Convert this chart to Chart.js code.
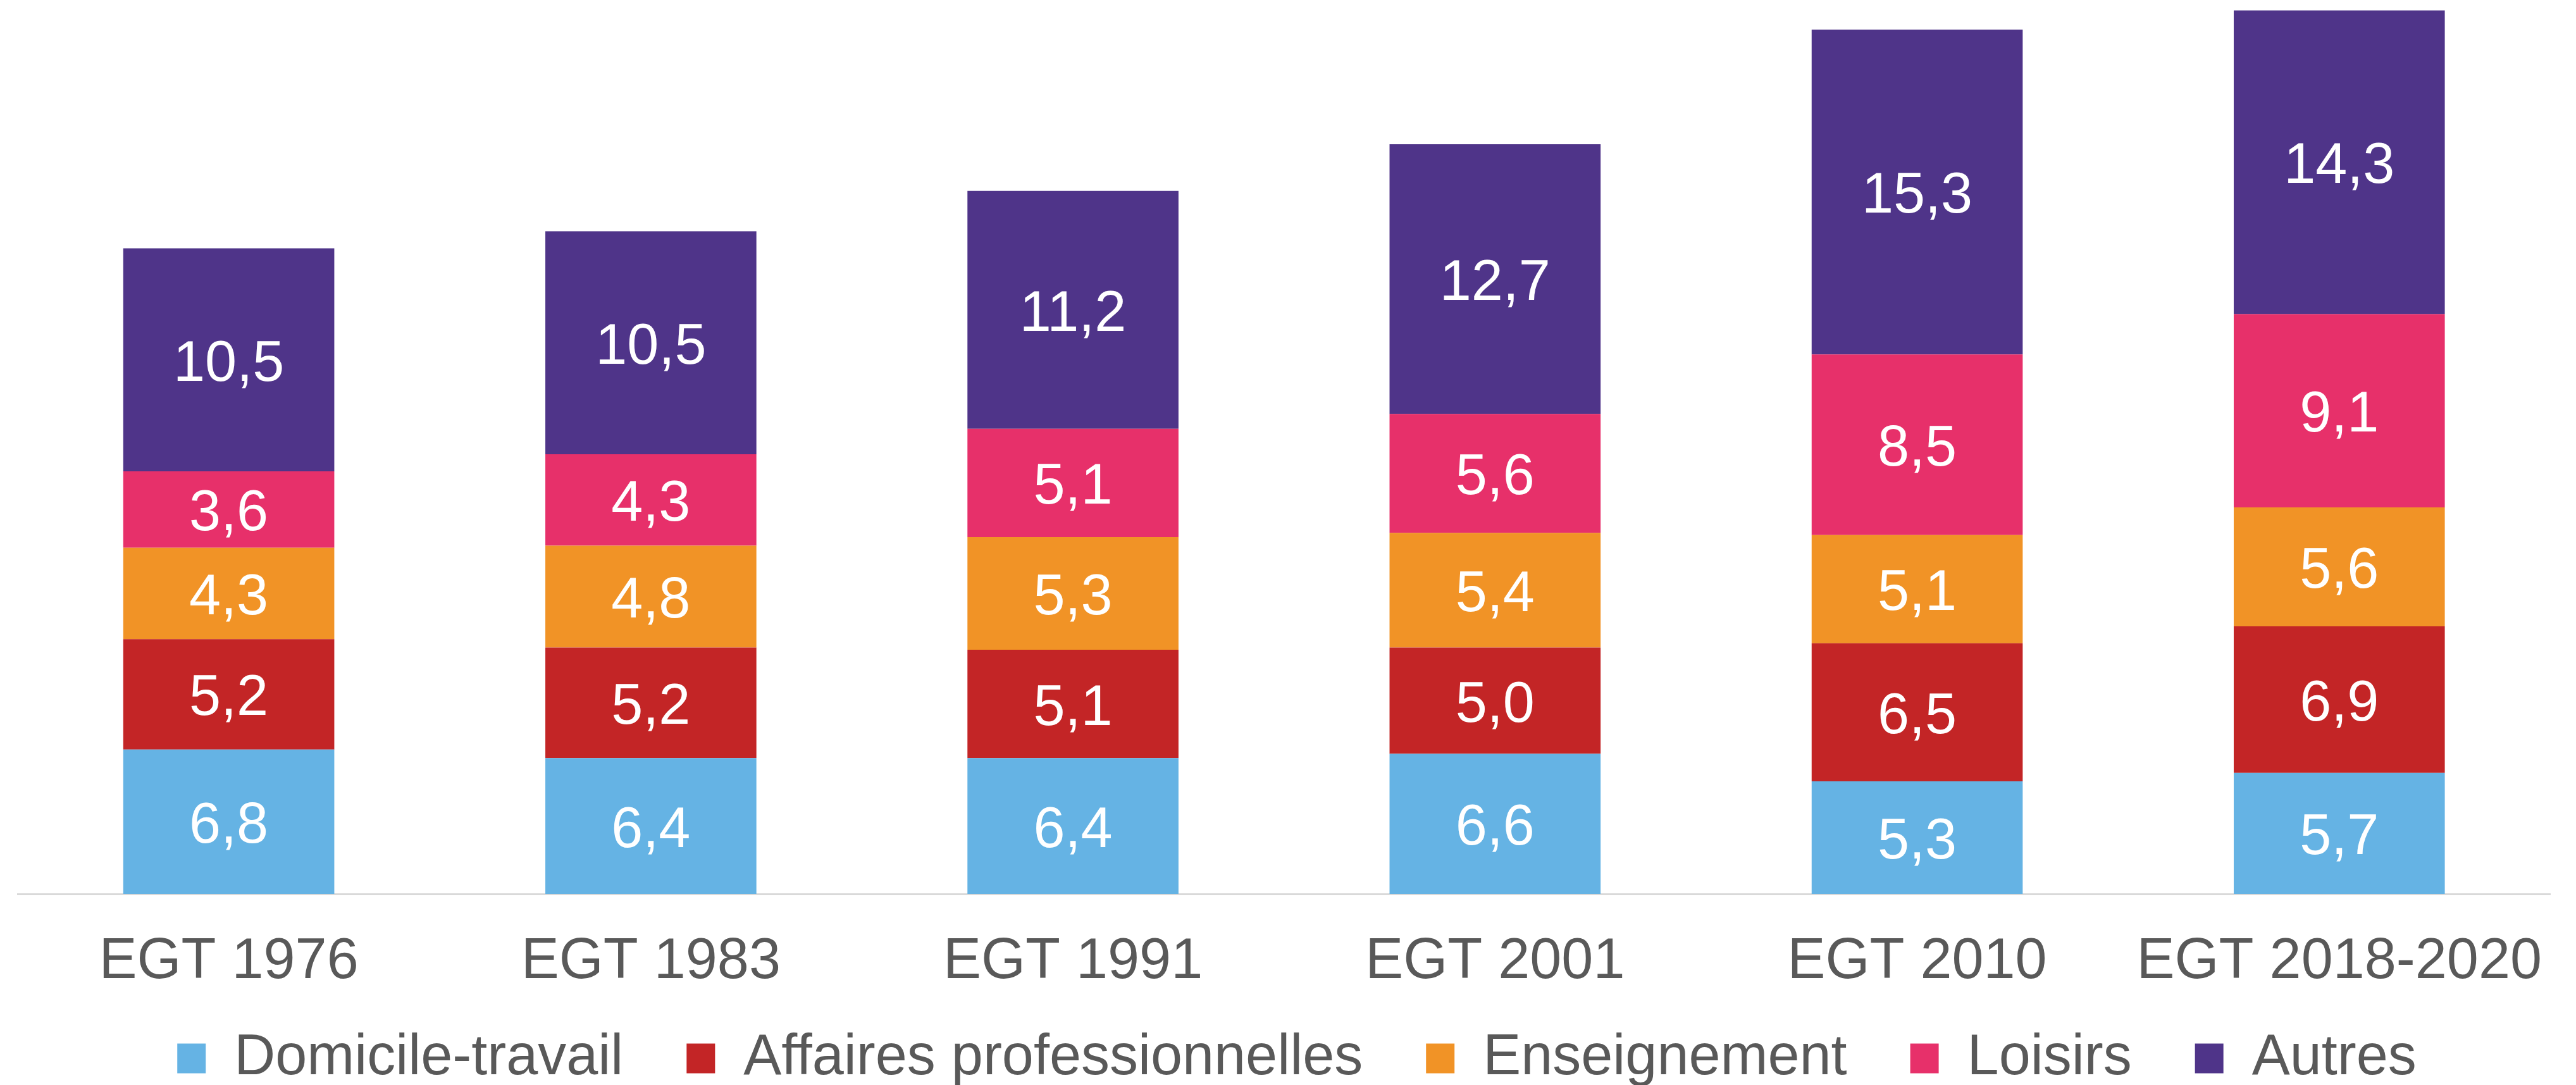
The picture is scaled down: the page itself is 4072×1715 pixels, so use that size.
<!DOCTYPE html>
<html lang="fr">
<head>
<meta charset="utf-8">
<title>EGT - déplacements par motif</title>
<script src="https://cdn.jsdelivr.net/npm/chart.js@4.4.1/dist/chart.umd.min.js"></script>
<style>
  html, body { margin: 0; padding: 0; background: #ffffff; }
  #wrap { width: 4072px; height: 1715px; position: relative; }
</style>
</head>
<body>
<div id="wrap"><canvas id="chart"></canvas></div>
<script>
// Données (millions de déplacements par motif)
const categories = ['EGT 1976', 'EGT 1983', 'EGT 1991', 'EGT 2001', 'EGT 2010', 'EGT 2018-2020'];
const domicileTravail = [6.8, 6.4, 6.4, 6.6, 5.3, 5.7];
const affairesPro = [5.2, 5.2, 5.1, 5.0, 6.5, 6.9];
const enseignement = [4.3, 4.8, 5.3, 5.4, 5.1, 5.6];
const loisirs = [3.6, 4.3, 5.1, 5.6, 8.5, 9.1];
const autres = [10.5, 10.5, 11.2, 12.7, 15.3, 14.3];

const FONT = '"Liberation Sans", Arial, Helvetica, sans-serif';
const GREY = '#595959';

Chart.defaults.font.family = FONT;

// Étiquettes blanches au centre de chaque segment
const segmentLabels = {
  id: 'segmentLabels',
  afterDatasetsDraw(chart) {
    const ctx = chart.ctx;
    ctx.save();
    ctx.fillStyle = '#ffffff';
    ctx.font = '90px ' + FONT;
    ctx.textAlign = 'center';
    ctx.textBaseline = 'alphabetic';
    chart.data.datasets.forEach((ds, i) => {
      chart.getDatasetMeta(i).data.forEach((bar, j) => {
        const mid = (bar.y + bar.base) / 2;
        ctx.fillText(ds.data[j].toFixed(1).replace('.', ','), bar.x, mid + 33);
      });
    });
    ctx.restore();
  }
};

// La légende garde un grand espacement horizontal sans trop de hauteur,
// et les libellés de l'axe x ne sont pas coupés par la zone de l'axe
const bottomLayout = {
  id: 'bottomLayout',
  beforeInit(chart) {
    const fit = chart.legend.fit;
    chart.legend.fit = function () {
      fit.call(this);
      this.height = 187;
    };
  },
  afterLayout(chart) {
    chart.scales.x.bottom += 70;
  }
};

const ctx = document.getElementById('chart').getContext('2d');
const chart = new Chart(ctx, {
  type: 'bar',
  data: {
    labels: categories,
    datasets: [
      { label: 'Domicile-travail', data: domicileTravail, backgroundColor: '#65B3E4' },
      { label: 'Affaires professionnelles', data: affairesPro, backgroundColor: '#C32526' },
      { label: 'Enseignement', data: enseignement, backgroundColor: '#F19326' },
      { label: 'Loisirs', data: loisirs, backgroundColor: '#E7306A' },
      { label: 'Autres', data: autres, backgroundColor: '#4F3489' }
    ]
  },
  options: {
    responsive: true,
    maintainAspectRatio: false,
    animation: false,
    layout: {
      padding: { top: 3, left: 28, right: 0, bottom: 0 }
    },
    datasets: {
      bar: {
        barPercentage: 0.5,
        categoryPercentage: 1.0,
        borderWidth: 0
      }
    },
    scales: {
      x: {
        stacked: true,
        grid: { display: false, drawTicks: false },
        border: { display: true, color: '#d9d9d9', width: 3 },
        ticks: {
          color: GREY,
          font: { size: 90 },
          padding: 54,
          maxRotation: 0,
          autoSkip: false
        },
        afterFit: (scale) => { scale.height = 115; }
      },
      y: {
        stacked: true,
        display: false,
        min: 0,
        max: 42
      }
    },
    plugins: {
      legend: {
        position: 'bottom',
        labels: {
          color: GREY,
          font: { size: 90 },
          boxWidth: 45,
          boxHeight: 47,
          padding: 100
        }
      },
      tooltip: { enabled: false }
    }
  },
  plugins: [segmentLabels, bottomLayout]
});
</script>
</body>
</html>
